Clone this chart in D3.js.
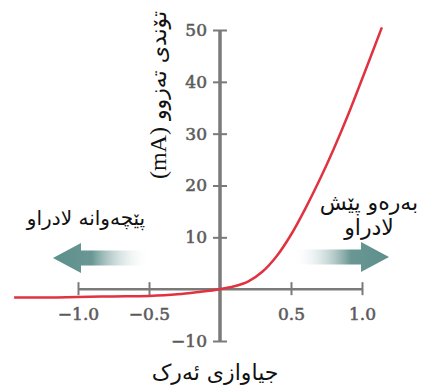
<!DOCTYPE html>
<html><head><meta charset="utf-8">
<script src="https://cdn.jsdelivr.net/npm/d3@7"></script>
<style>body{margin:0;background:#fff}svg{display:block}</style>
</head><body>
<svg id="c" width="426" height="388"></svg>
<script>
const voltage = [-1.45, -1.2, -1.0, -0.75, -0.5, -0.3, -0.15, 0, 0.1, 0.2, 0.3, 0.4, 0.5, 0.6, 0.7, 0.8, 0.9, 1.0, 1.14];
const current = [-1.6, -1.6, -1.5, -1.4, -1.3, -1.0, -0.55, 0, 0.55, 1.5, 3.4, 6.4, 10.5, 15.5, 21, 27, 33.5, 40.5, 50.5];
const yTicks = [-10, 10, 20, 30, 40, 50];
const xTicks = [-1.0, -0.5, 0.5, 1.0];
const yTitleText = "تۆندی تەزوو ";
const yTitleUnit = "(mA)";
const xTitle = "جیاوازی ئەرک";
const leftLabel = ["پێچەوانە لادراو"];
const rightLabel = ["بەرەو پێش", "لادراو"];

const svg = d3.select("#c");
const x = d3.scaleLinear().domain([-1.5, 1.5]).range([7, 433]);
const y = d3.scaleLinear().domain([-10, 50]).range([341, 30]);
const axisColor = "#7a7a7a";
const fmt = d => (d < 0 ? "\u2212" : "") + Math.abs(d).toFixed(1);

// arrows
const defs = svg.append("defs");
function grad(id, x1, x2) {
  const g = defs.append("linearGradient").attr("id", id).attr("x1", x1).attr("x2", x2);
  g.append("stop").attr("offset", "0").attr("stop-color", "#5c8f8b");
  g.append("stop").attr("offset", "0.4").attr("stop-color", "#6a9794");
  g.append("stop").attr("offset", "1").attr("stop-color", "#ffffff").attr("stop-opacity", 0);
}
grad("gl", "0", "1");
grad("gr", "1", "0");

function arrow(tipX, tailX, cy, dir, fill) {
  const hl = 28, hh = 15, sh = 7.5;
  const bx = tipX - dir * hl;
  const pts = [[tipX, cy], [bx, cy - hh], [bx, cy - sh], [tailX, cy - sh], [tailX, cy + sh], [bx, cy + sh], [bx, cy + hh]];
  svg.append("path").attr("d", d3.line()(pts) + "Z").attr("fill", fill);
}
arrow(53, 150, 258, -1, "url(#gl)");
arrow(389, 293, 257, 1, "url(#gr)");

// x axis
svg.append("line").attr("x1", x(-1)).attr("x2", x(1)).attr("y1", y(0)).attr("y2", y(0))
  .attr("stroke", axisColor).attr("stroke-width", 2.5);
const xg = svg.append("g").attr("transform", `translate(0,${y(0)})`)
  .call(d3.axisBottom(x).tickValues(xTicks).tickSize(6).tickFormat(fmt));
xg.select(".domain").remove();
xg.selectAll(".tick line").attr("y1", -7).attr("y2", 6).attr("stroke", axisColor).attr("stroke-width", 2);
xg.selectAll(".tick text").attr("y", 19).attr("font-family", "DejaVu Serif").attr("font-size", 17)
  .attr("fill", "#555").attr("stroke", "#666").attr("stroke-width", 0.6).attr("dy", "0.71em");

// y axis
svg.append("line").attr("x1", x(0)).attr("x2", x(0)).attr("y1", y(-10)).attr("y2", y(50))
  .attr("stroke", axisColor).attr("stroke-width", 3.5);
const yg = svg.append("g").attr("transform", `translate(${x(0)},0)`)
  .call(d3.axisLeft(y).tickValues(yTicks).tickSize(6).tickFormat(d => (d < 0 ? "\u2212" : "") + Math.abs(d)));
yg.select(".domain").remove();
yg.selectAll(".tick line").attr("x1", -7).attr("x2", 7).attr("stroke", axisColor).attr("stroke-width", 2);
yg.selectAll(".tick text").attr("x", -13).attr("font-family", "DejaVu Serif").attr("font-size", 17)
  .attr("fill", "#555").attr("stroke", "#666").attr("stroke-width", 0.6);

// curve
const pts = voltage.map((v, i) => [v, current[i]]);
svg.append("path").datum(pts)
  .attr("d", d3.line().x(d => x(d[0])).y(d => y(d[1])).curve(d3.curveCatmullRom.alpha(0.5)))
  .attr("fill", "none").attr("stroke", "#e0323f").attr("stroke-width", 2.5);

// texts
const kfont = "DejaVu Sans";
const yt = svg.append("text").attr("x", 158).attr("y", 95).attr("transform", "rotate(-90,158,95)")
  .attr("text-anchor", "middle").attr("dominant-baseline", "central")
  .attr("font-family", kfont).attr("font-size", 22).attr("fill", "#111").attr("direction", "rtl");
yt.append("tspan").text(yTitleText);
yt.append("tspan").attr("font-family", "Liberation Serif").attr("font-size", 24).text(yTitleUnit);
svg.append("text").attr("x", 215).attr("y", 380).attr("text-anchor", "middle")
  .attr("font-family", kfont).attr("font-size", 22).attr("fill", "#111").text(xTitle);
svg.append("text").attr("x", 86).attr("y", 225).attr("text-anchor", "middle")
  .attr("font-family", kfont).attr("font-size", 20).attr("fill", "#111").text(leftLabel[0]);
rightLabel.forEach((t, i) => {
  svg.append("text").attr("x", 369).attr("y", 210 + i * 25).attr("text-anchor", "middle")
    .attr("font-family", kfont).attr("font-size", 22).attr("fill", "#111").text(t);
});
</script>
</body></html>
